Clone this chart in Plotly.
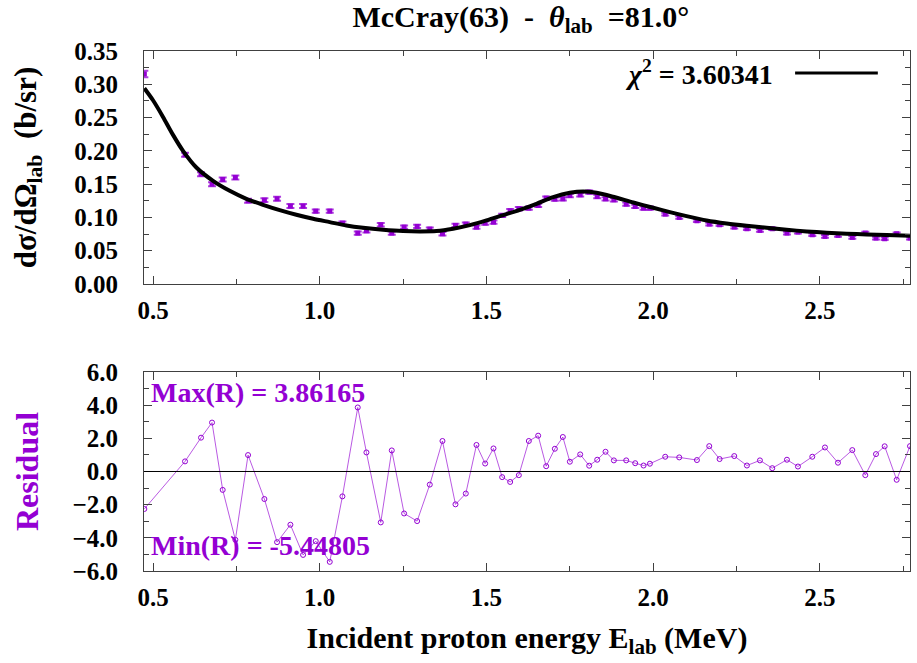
import plotly.graph_objects as go
from plotly.subplots import make_subplots

PURPLE = "#9400D3"
FONT = "Liberation Serif"

# Measured energies (MeV), cross sections (b/sr), uncertainties and residuals
energy = [0.474, 0.596, 0.644, 0.677, 0.709, 0.747, 0.785, 0.834, 0.872, 0.912,
          0.950, 0.988, 1.030, 1.068, 1.114, 1.140, 1.183, 1.216, 1.253, 1.292,
          1.330, 1.368, 1.407, 1.438, 1.470, 1.496, 1.521, 1.547, 1.571, 1.597,
          1.627, 1.655, 1.679, 1.705, 1.729, 1.750, 1.781, 1.808, 1.832, 1.857,
          1.882, 1.919, 1.946, 1.971, 1.990, 2.036, 2.078, 2.131, 2.168, 2.199,
          2.243, 2.281, 2.320, 2.357, 2.401, 2.434, 2.477, 2.515, 2.554, 2.597,
          2.636, 2.668, 2.694, 2.730, 2.770]
xsec = [0.3155, 0.194, 0.165, 0.150, 0.157, 0.160, 0.125, 0.126, 0.128, 0.117,
        0.117, 0.1095, 0.1095, 0.0915, 0.0765, 0.080, 0.089, 0.0765, 0.0855, 0.0865,
        0.0825, 0.0755, 0.088, 0.090, 0.0855, 0.0915, 0.093, 0.103, 0.110, 0.113,
        0.114, 0.118, 0.129, 0.1275, 0.128, 0.133, 0.134, 0.138, 0.1315, 0.128,
        0.1265, 0.120, 0.1165, 0.114, 0.114, 0.105, 0.100, 0.095, 0.090, 0.089,
        0.0855, 0.083, 0.0805, 0.083, 0.0765, 0.078, 0.074, 0.0715, 0.073, 0.070,
        0.0765, 0.069, 0.068, 0.0755, 0.069]
xsec_err = [0.005, 0.003, 0.003, 0.003, 0.003, 0.003, 0.003, 0.003, 0.003, 0.003,
            0.003, 0.0025, 0.0025, 0.0025, 0.0025, 0.0025, 0.0025, 0.0025, 0.0025, 0.0025,
            0.0025, 0.0025, 0.0025, 0.0025, 0.0025, 0.0025, 0.0025, 0.0025, 0.0025, 0.0025,
            0.0025, 0.0025, 0.0025, 0.0025, 0.0025, 0.0025, 0.0025, 0.0025, 0.0025, 0.0025,
            0.0025, 0.0025, 0.0025, 0.0025, 0.0025, 0.002, 0.002, 0.002, 0.002, 0.002,
            0.002, 0.002, 0.002, 0.002, 0.002, 0.002, 0.002, 0.002, 0.002, 0.002,
            0.002, 0.002, 0.002, 0.002, 0.002]
residual = [-2.26, 0.61, 2.04, 2.95, -1.11, -4.12, 0.99, -1.66, -4.26, -3.21,
            -5.03, -4.20, -5.44805, -1.50, 3.86165, 1.15, -3.07, 1.27, -2.53, -2.99,
            -0.79, 1.84, -1.98, -1.33, 1.60, 0.48, 1.39, -0.34, -0.63, -0.22,
            1.84, 2.16, 0.32, 1.37, 2.08, 0.59, 1.03, 0.35, 0.71, 1.19,
            0.67, 0.67, 0.50, 0.36, 0.47, 0.89, 0.85, 0.69, 1.53, 0.75,
            0.93, 0.36, 0.67, 0.20, 0.71, 0.30, 0.89, 1.45, 0.53, 1.29,
            -0.22, 1.05, 1.52, -0.50, 1.53]

# R-matrix fit curve
fit_energy = [0.474, 0.50, 0.53, 0.56, 0.59, 0.63, 0.68, 0.73, 0.78, 0.83,
              0.88, 0.93, 0.98, 1.03, 1.08, 1.13, 1.19, 1.25, 1.30, 1.35,
              1.40, 1.45, 1.50, 1.55, 1.60, 1.65, 1.70, 1.75, 1.79, 1.83,
              1.88, 1.94, 2.00, 2.05, 2.10, 2.16, 2.22, 2.28, 2.34, 2.40,
              2.46, 2.52, 2.58, 2.64, 2.70, 2.77]
fit_xsec = [0.294, 0.276, 0.251, 0.224, 0.200, 0.175, 0.155, 0.140, 0.128, 0.119,
            0.111, 0.104, 0.098, 0.093, 0.088, 0.0845, 0.0815, 0.0795, 0.079, 0.0795,
            0.083, 0.0885, 0.0955, 0.1035, 0.1115, 0.1205, 0.1305, 0.137, 0.139, 0.137,
            0.131, 0.1225, 0.1145, 0.108, 0.102, 0.0955, 0.091, 0.0875, 0.0845, 0.0815,
            0.079, 0.077, 0.0755, 0.0745, 0.0735, 0.0725]

chi2 = 3.60341
x_range = [0.473, 2.770]

fig = make_subplots(rows=2, cols=1, shared_xaxes=False, vertical_spacing=0.1)

fig.add_trace(go.Scatter(
    x=energy, y=xsec, mode="markers",
    marker=dict(symbol="square", size=5, color=PURPLE),
    error_y=dict(type="data", array=xsec_err, color="rgba(148,0,211,0.75)",
                 thickness=2, width=4),
    showlegend=False), row=1, col=1)

fig.add_trace(go.Scatter(
    x=fit_energy, y=fit_xsec, mode="lines",
    line=dict(color="black", width=4, shape="spline", smoothing=0.8),
    showlegend=False), row=1, col=1)

fig.add_trace(go.Scatter(
    x=energy, y=residual, mode="lines+markers",
    line=dict(color="rgba(148,0,211,0.65)", width=1),
    marker=dict(symbol="circle-open", size=5, color=PURPLE, line=dict(width=1)),
    showlegend=False), row=2, col=1)

tick_font = dict(family=FONT, size=25, color="black", weight="bold")
axis_common = dict(showline=True, linecolor="#404040", linewidth=1, mirror="allticks",
                   ticks="inside", tickcolor="#404040", showgrid=False, zeroline=False,
                   tickfont=tick_font)

fig.update_xaxes(range=x_range, tick0=0.5, dtick=0.5, ticklen=8, tickformat=".1f",
                 ticklabelstandoff=4,
                 minor=dict(ticks="inside", ticklen=5, dtick=0.25, tickcolor="#404040"),
                 **axis_common)
fig.update_xaxes(domain=[0, 1], row=1, col=1)
fig.update_xaxes(domain=[0, 1], row=2, col=1,
                 title=dict(text="Incident proton energy E<sub>lab</sub> (MeV)",
                            font=dict(family=FONT, size=30, color="black", weight="bold"),
                            standoff=16))

fig.update_yaxes(range=[0, 0.35], dtick=0.05, tickformat=".2f", ticklen=8,
                 minor=dict(ticks="inside", ticklen=5, dtick=0.025, tickcolor="#404040"),
                 domain=[0.5519, 1.0], ticklabelstandoff=20,
                 title=dict(text="dσ/dΩ<sub>lab</sub>  (b/sr)",
                            font=dict(family=FONT, size=31, color="black", weight="bold"),
                            standoff=28),
                 row=1, col=1, **axis_common)
fig.update_yaxes(range=[-6, 6], dtick=2, tickformat=".1f", ticklen=8,
                 minor=dict(ticks="inside", ticklen=5, dtick=1, tickcolor="#404040"),
                 domain=[0, 0.3827], ticklabelstandoff=20,
                 title=dict(text="Residual",
                            font=dict(family=FONT, size=32, color=PURPLE, weight="bold"),
                            standoff=24),
                 row=2, col=1, **axis_common)

# Zero reference line in the residual panel
fig.add_hline(y=0, line=dict(color="black", width=1), row=2, col=1)

# Fit-quality label with line sample
fig.add_annotation(xref="paper", yref="paper", x=0.824, y=0.9577,
                   xanchor="right", yanchor="middle", showarrow=False,
                   text="<i>χ</i><sup>2</sup> = %.5f" % chi2,
                   font=dict(family=FONT, size=28, color="black", weight="bold"))
fig.add_shape(type="line", xref="paper", yref="paper",
              x0=0.850, x1=0.958, y0=0.9577, y1=0.9577,
              line=dict(color="black", width=3))

# Residual extrema labels
fig.add_annotation(xref="paper", yref="paper", x=0.006, y=0.344,
                   xanchor="left", yanchor="middle", showarrow=False,
                   text="Max(R) = %.5f" % max(residual),
                   font=dict(family=FONT, size=28, color=PURPLE, weight="bold"))
fig.add_annotation(xref="paper", yref="paper", x=0.006, y=0.05,
                   xanchor="left", yanchor="middle", showarrow=False,
                   text="Min(R) = %.5f" % min(residual),
                   font=dict(family=FONT, size=28, color=PURPLE, weight="bold"))

fig.update_layout(
    width=917, height=663,
    margin=dict(l=144, r=7, t=51, b=92),
    paper_bgcolor="white", plot_bgcolor="white",
    title=dict(text="McCray(63)\u00a0\u00a0-\u00a0\u00a0<i>θ</i><sub>lab</sub>\u00a0\u00a0=81.0°",
               x=0.568, xanchor="center", y=0.975, yanchor="middle",
               font=dict(family=FONT, size=30, color="black", weight="bold")),
)

fig.write_html("out.html")
